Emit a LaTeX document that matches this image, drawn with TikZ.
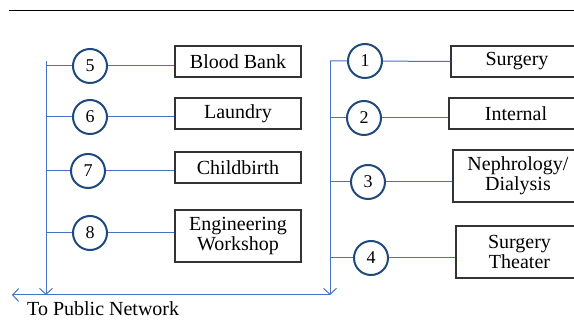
\documentclass[tikz,border=0pt]{standalone}
\usepackage{fontspec}
\setmainfont{Liberation Serif}
\usetikzlibrary{arrows.meta}
\definecolor{MBlue}{HTML}{4472C4}
\definecolor{MNavy}{HTML}{1F497D}
\begin{document}
\begin{tikzpicture}[x=1pt,y=-1pt,font=\fontsize{20}{20}\selectfont,
		num/.style={circle,draw=MNavy,line width=2pt,minimum size=34pt,inner sep=0pt,font=\fontsize{18}{18}\selectfont},
		unit/.style={draw=black!80,line width=1.3pt,align=center,inner sep=0pt},
		link/.style={MBlue,line width=1pt},
		bus/.style={MBlue,line width=1pt,-{Straight Barb[length=6pt,width=13pt]}}]
			\useasboundingbox (0,0) rectangle (574,320);
			\clip (0,0) rectangle (574,320);
			\draw[line width=1pt] (9,11) -- (574,11);
			
			\coordinate (lt) at (46,61);
			\coordinate (lb) at (46,295);
			\coordinate (rt) at (330,61);
			\coordinate (rb) at (330,295);
			\coordinate (pub) at (12,295);
			
			\node[num] (c5) at (90,66) {5};
			\node[num] (c6) at (90,117) {6};
			\node[num] (c7) at (88,171) {7};
			\node[num] (c8) at (90,233) {8};
			\node[num] (c1) at (365,61) {1};
			\node[num] (c2) at (364,118) {2};
			\node[num] (c3) at (368,182) {3};
			\node[num] (c4) at (371,258) {4};
			
			\node[unit,minimum width=126pt,minimum height=31pt] (blood) at (238,61.5) {Blood Bank};
			\node[unit,minimum width=126pt,minimum height=31pt] (laundry) at (238,113.5) {Laundry};
			\node[unit,minimum width=126pt,minimum height=31pt] (birth) at (238,167.5) {Childbirth};
			\node[unit,minimum width=126pt,minimum height=52pt] (workshop) at (238,236) {Engineering\\Workshop};
			\node[unit,minimum width=132pt,minimum height=31pt] (surgery) at (517,61.5) {Surgery};
			\node[unit,minimum width=134pt,minimum height=31pt] (internal) at (516,113.5) {Internal};
			\node[unit,minimum width=130pt,minimum height=52pt] (dialysis) at (518,176) {Nephrology/\\Dialysis};
			\node[unit,minimum width=127pt,minimum height=52pt] (theater) at (519.5,252) {Surgery\\Theater};
			
			\draw[bus] (lt) -- (lb);
			\draw[bus] (rt) -- (rb);
			\draw[bus] (rb) -- (pub);
			\node[anchor=base west,inner sep=0pt] (pubtext) at (27,316) {To Public Network};
			
			\draw[link] (c5 -| lt) -- (c5) -- (c5 -| blood.west);
			\draw[link] (c6 -| lt) -- (c6) -- (c6 -| laundry.west);
			\draw[link] (c7 -| lt) -- (c7) -- (c7 -| birth.west);
			\draw[link] (c8 -| lt) -- (c8) -- (c8 -| workshop.west);
			\draw[link] (c1 -| rt) -- (c1) -- (surgery.west);
			\draw[link] (c2 -| rt) -- (c2) -- (c2 -| internal.west);
			\draw[link] (c3 -| rt) -- (c3) -- (c3 -| dialysis.west);
			\draw[link] (c4 -| rt) -- (c4) -- (c4 -| theater.west);
		\end{tikzpicture}
\end{document}
